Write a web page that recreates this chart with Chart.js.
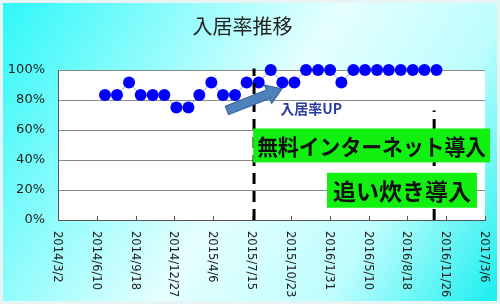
<!DOCTYPE html>
<html>
<head>
<meta charset="utf-8">
<script src="https://cdn.jsdelivr.net/npm/chart.js@4.4.0/dist/chart.umd.min.js"></script>
<style>
  html, body { margin: 0; padding: 0; background: #fff; }
</style>
</head>
<body>
<canvas id="occupancy_chart" width="500" height="304"></canvas>
<script>
// monthly occupancy (%)
var months = ['2014/7/1', '2014/8/1', '2014/9/1', '2014/10/1', '2014/11/1', '2014/12/1',
  '2015/1/1', '2015/2/1', '2015/3/1', '2015/4/1', '2015/5/1', '2015/6/1',
  '2015/7/1', '2015/8/1', '2015/9/1', '2015/10/1', '2015/11/1', '2015/12/1',
  '2016/1/1', '2016/2/1', '2016/3/1', '2016/4/1', '2016/5/1', '2016/6/1',
  '2016/7/1', '2016/8/1', '2016/9/1', '2016/10/1', '2016/11/1'];
var occupancy = [83.3, 83.3, 91.7, 83.3, 83.3, 83.3,
  75, 75, 83.3, 91.7, 83.3, 83.3,
  91.7, 91.7, 100, 91.7, 91.7, 100,
  100, 100, 91.7, 100, 100, 100,
  100, 100, 100, 100, 100];
var xTickLabels = ['2014/3/2', '2014/6/10', '2014/9/18', '2014/12/27', '2015/4/6', '2015/7/15',
  '2015/10/23', '2016/1/31', '2016/5/10', '2016/8/18', '2016/11/26', '2017/3/6'];
var yTicks = [0, 20, 40, 60, 80, 100];

// dashed event markers (date, top value)
var eventDates = ['2015/7/20', '2016/10/26'];
var eventTops = [101, 73];

function toTime(s) {
  var p = s.split('/');
  return Date.UTC(+p[0], +p[1] - 1, +p[2]);
}

var backdrop = {
  id: 'backdrop',
  beforeDraw: function(chart) {
    var ctx = chart.ctx, a = chart.chartArea;
    var g = ctx.createLinearGradient(0, 0, chart.width, chart.height);
    g.addColorStop(0, '#2cf8f8');
    g.addColorStop(0.5, '#e6ffff');
    g.addColorStop(0.75, '#bdfdfd');
    g.addColorStop(1, '#14eeee');
    ctx.save();
    ctx.fillStyle = g;
    ctx.fillRect(0, 0, chart.width, chart.height);
    ctx.strokeStyle = '#e8f3f3';
    ctx.lineWidth = 3;
    ctx.strokeRect(1.5, 1.5, chart.width - 3, chart.height - 3);
    ctx.fillStyle = '#fff';
    ctx.fillRect(a.left, a.top, a.right - a.left, a.bottom - a.top);
    ctx.restore();
  }
};

// x labels read top-to-bottom, tick marks point into the plot
var xLabels = {
  id: 'xLabels',
  afterDraw: function(chart) {
    var ctx = chart.ctx, xs = chart.scales.x, a = chart.chartArea;
    ctx.save();
    ctx.strokeStyle = '#555';
    ctx.lineWidth = 1;
    ctx.fillStyle = '#222';
    ctx.font = '11.5px "DejaVu Sans"';
    ctx.textAlign = 'left';
    ctx.textBaseline = 'middle';
    xTickLabels.forEach(function(l) {
      var px = Math.round(xs.getPixelForValue(toTime(l))) + 0.5;
      ctx.beginPath();
      ctx.moveTo(px, a.bottom);
      ctx.lineTo(px, a.bottom - 4);
      ctx.stroke();
      ctx.save();
      ctx.translate(px - 2, a.bottom + 11);
      ctx.rotate(Math.PI / 2);
      ctx.fillText(l, 0, 0);
      ctx.restore();
    });
    ctx.restore();
  }
};

var notes = {
  id: 'notes',
  afterDatasetsDraw: function(chart) {
    var ctx = chart.ctx, xs = chart.scales.x, ys = chart.scales.y;
    ctx.save();

    // arrow
    var x1 = xs.getPixelForValue(toTime('2015/5/11')), y1 = ys.getPixelForValue(73);
    var x2 = xs.getPixelForValue(toTime('2015/9/30')), y2 = ys.getPixelForValue(87.5);
    var len = Math.hypot(x2 - x1, y2 - y1);
    ctx.translate(x1, y1);
    ctx.rotate(Math.atan2(y2 - y1, x2 - x1));
    ctx.beginPath();
    ctx.moveTo(0, -4.5);
    ctx.lineTo(len - 15, -4.5);
    ctx.lineTo(len - 15, -10);
    ctx.lineTo(len, 0);
    ctx.lineTo(len - 15, 10);
    ctx.lineTo(len - 15, 4.5);
    ctx.lineTo(0, 4.5);
    ctx.closePath();
    ctx.fillStyle = '#4f81bd';
    ctx.fill();
    ctx.strokeStyle = '#36609a';
    ctx.lineWidth = 1;
    ctx.stroke();
    ctx.setTransform(1, 0, 0, 1, 0, 0);

    ctx.fillStyle = '#2b3c9c';
    ctx.font = 'bold 14px "Noto Sans CJK JP"';
    ctx.textAlign = 'center';
    ctx.textBaseline = 'middle';
    ctx.fillText('入居率UP', xs.getPixelForValue(toTime('2015/12/14')), ys.getPixelForValue(74.5));

    // green label boxes
    function box(text, date, val, w, h, size) {
      var cx = xs.getPixelForValue(toTime(date)), cy = ys.getPixelForValue(val);
      ctx.fillStyle = '#11f011';
      ctx.fillRect(cx - w / 2, cy - h / 2, w, h);
      ctx.fillStyle = '#111';
      ctx.font = 'bold ' + size + 'px "Noto Sans CJK JP"';
      ctx.fillText(text, cx, cy + 1, w - 8);
    }
    box('無料インターネット導入', '2016/5/18', 49.7, 237, 34, 22);
    box('追い炊き導入', '2016/8/4', 19.8, 150, 35, 23);
    ctx.restore();
  }
};

var datasets = [{
  label: '入居率',
  data: months.map(function(m, i) { return { x: toTime(m), y: occupancy[i] }; }),
  borderColor: 'rgba(120,120,190,0.7)',
  borderWidth: 1,
  pointRadius: 6,
  pointBorderWidth: 0,
  pointBackgroundColor: '#0000ff',
  clip: false,
  order: 2
}];
eventDates.forEach(function(d, i) {
  datasets.push({
    label: 'event' + i,
    data: [{ x: toTime(d), y: 0 }, { x: toTime(d), y: eventTops[i] }],
    borderColor: '#000',
    borderWidth: 3,
    borderDash: [11, 7],
    pointRadius: 0,
    clip: false,
    order: 1
  });
});

var myChart = new Chart(document.getElementById('occupancy_chart').getContext('2d'), {
  type: 'line',
  data: { datasets: datasets },
  plugins: [backdrop, xLabels, notes],
  options: {
    responsive: false,
    animation: false,
    layout: { padding: { left: 0, right: 15, top: 0, bottom: 0 } },
    plugins: {
      legend: { display: false },
      tooltip: { enabled: false },
      title: {
        display: true,
        text: '入居率推移',
        color: '#222',
        font: { family: '"Noto Sans CJK JP"', size: 20, weight: 'normal' },
        padding: { top: 14, bottom: 32 }
      }
    },
    scales: {
      x: {
        type: 'linear',
        min: toTime(xTickLabels[0]),
        max: toTime(xTickLabels[xTickLabels.length - 1]),
        afterBuildTicks: function(scale) {
          scale.ticks = xTickLabels.map(function(l) { return { value: toTime(l) }; });
        },
        afterFit: function(scale) { scale.height = 84; },
        ticks: { display: false },
        grid: { drawOnChartArea: false, drawTicks: false },
        border: { color: '#555', width: 1 }
      },
      y: {
        min: 0,
        max: 100,
        afterBuildTicks: function(scale) {
          scale.ticks = yTicks.map(function(v) { return { value: v }; });
        },
        afterFit: function(scale) { scale.width = 58; },
        ticks: {
          callback: function(v) { return v + '%'; },
          color: '#222',
          font: { family: '"DejaVu Sans"', size: 13 },
          padding: 13
        },
        grid: { color: '#8a8a8a', drawTicks: false },
        border: { color: '#555', width: 1 }
      }
    }
  }
});
</script>
</body>
</html>
